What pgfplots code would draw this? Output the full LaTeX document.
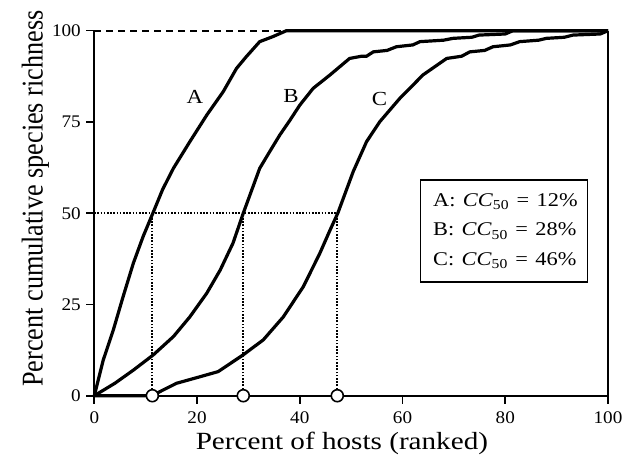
\documentclass[border=0pt]{standalone}
\usepackage{fontspec}
\setmainfont{Liberation Serif}
\usepackage{graphicx}
\usepackage{pgfplots}
\pgfplotsset{compat=1.18}
\begin{document}
\begin{tikzpicture}
\path[use as bounding box] (-94.3bp,-73.3bp) rectangle (529.7bp,395.7bp);
\begin{axis}[
  at={(0,0)}, anchor=south west, scale only axis,
  width=513.7bp, height=365bp,
  xmin=0, xmax=100, ymin=0, ymax=100, clip=false,
  axis lines=left, axis line style={-, line width=2bp, black},
  xtick={0,20,40,60,80,100}, ytick={0,25,50,75,100},
  tick align=outside, major tick length=8bp,
  tick style={line width=1.6bp, black},
  /pgf/number format/assume math mode=true,
  ticklabel style={font=\fontsize{17.8}{20}\selectfont},
  xticklabel style={yshift=-4bp},
  yticklabel style={xshift=-2bp},
  xticklabel={\scalebox{1.08}[1]{\pgfmathprintnumber{\tick}}},
  yticklabel={\scalebox{1.08}[1]{\pgfmathprintnumber{\tick}}},
  xlabel={\scalebox{1.18}[1]{Percent of hosts (ranked)}},
  xlabel style={font=\fontsize{24.8}{28}\selectfont, at={(axis description cs:0.482,-0.147)}, anchor=base},
  ylabel={\scalebox{1}[1.15]{Percent cumulative species richness}},
  ylabel style={font=\fontsize{26.3}{30}\selectfont, at={(axis description cs:-0.1004,0.540)}, anchor=base},
]
% reference lines
\addplot[black, line width=1.7bp, dash pattern=on 7bp off 5bp] coordinates {(0,100) (37.4,100)};
\addplot[black, line width=1.7bp] coordinates {(100,0) (100,100)};
\addplot[black, line width=1.7bp, dash pattern=on 1.6bp off 1.6bp] coordinates {(0,50) (47.3,50)};
\addplot[black, line width=1.7bp, dash pattern=on 1.6bp off 1.6bp] coordinates {(11.3,0) (11.3,50)};
\addplot[black, line width=1.7bp, dash pattern=on 1.6bp off 1.6bp] coordinates {(29,0) (29,50)};
\addplot[black, line width=1.7bp, dash pattern=on 1.6bp off 1.6bp] coordinates {(47.3,0) (47.3,50)};
% curve A
\addplot[black, line width=3.2bp, line join=round] coordinates {
(0,0) (1.75,9.8) (3.7,18) (5.6,27.1) (7.6,36.3) (9.5,43.6) (11.4,50) (13.3,56.5)
(15.4,62.3) (18.6,69.6) (21.9,76.9) (25.1,83.3) (27.7,89.7) (29.6,92.9) (32.2,97.0)
(34.8,98.4) (37.4,100) (100,100)};
% curve B
\addplot[black, line width=3.2bp, line join=round] coordinates {
(0,0) (4.0,3.4) (7.6,7.0) (11.5,11.2) (15.4,16.2) (18.6,21.6) (21.9,28.1) (24.5,34.4)
(27.0,41.8) (29,50) (32.2,62.3) (34.2,67) (36.1,71.4) (38.1,75.5) (40.0,79.6) (42.6,84.2)
(45.9,87.9) (49.7,92.4) (52,93.0) (53,93.0) (54.3,94.2) (57,94.6) (58.8,95.6) (62,96.1)
(63.4,97.0) (68,97.4) (69.8,97.9) (73.5,98.2) (74.9,98.8) (80,99.1) (81.5,100) (100,100)};
% curve C
\addplot[black, line width=3.2bp, line join=round] coordinates {
(0,0) (11.2,0) (16.0,3.4) (20.6,5.2) (24.1,6.6) (29.0,11.2) (32.9,15.3) (36.8,21.6)
(40.7,29.9) (43.9,39.0) (45.9,45.4) (47.4,50) (50.4,61.4) (53.0,69.6) (55.6,75.1)
(59.5,81.5) (64.0,87.9) (68.6,92.4) (71.5,93.0) (73.1,94.2) (76,94.6) (77.6,95.6)
(81,96.1) (82.8,97.0) (86.5,97.4) (88.0,97.9) (91.5,98.2) (93.2,98.8) (98.5,99.1) (100,100)};
% CC50 markers
\addplot[only marks, mark=*, mark size=6bp, mark options={fill=white, draw=black, line width=1.6bp}]
 coordinates {(11.3,0) (29,0) (47.3,0)};
% curve labels
\node[font=\fontsize{20}{24}\selectfont] at (axis cs:19.6,81.9) {\scalebox{1.15}[1]{A}};
\node[font=\fontsize{20}{24}\selectfont] at (axis cs:38.3,82.1) {\scalebox{1.15}[1]{B}};
\node[font=\fontsize{20}{24}\selectfont] at (axis cs:55.5,81.2) {\scalebox{1.15}[1]{C}};
% box
\node[draw=black, line width=1.5bp, fill=white, minimum width=166.6bp, minimum height=102.3bp,
  text width=141.6bp, inner xsep=12.5bp, align=left,
  font=\fontsize{19.5}{29.2}\selectfont] at (axis cs:79.75,45.1)
 {\scalebox{1.15}[1]{A: \textit{CC}\textsubscript{50} = 12\%}\\
  \scalebox{1.15}[1]{B: \textit{CC}\textsubscript{50} = 28\%}\\
  \scalebox{1.15}[1]{C: \textit{CC}\textsubscript{50} = 46\%}};
\end{axis}
\end{tikzpicture}
\end{document}
